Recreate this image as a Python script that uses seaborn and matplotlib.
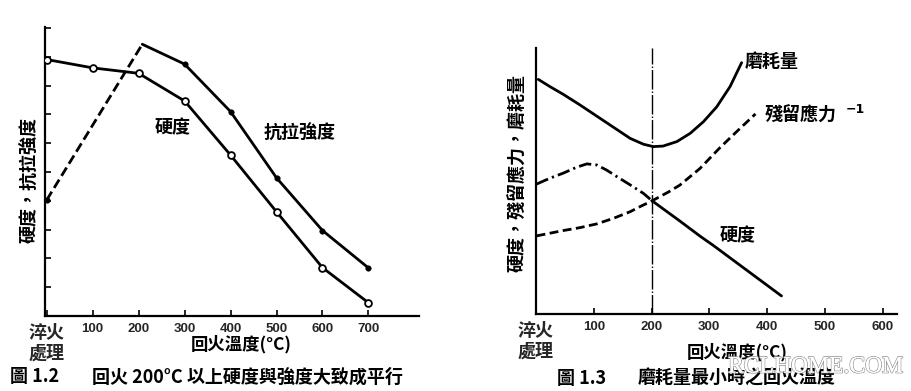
import numpy as np
import seaborn as sns
import matplotlib.pyplot as plt
import matplotlib.patheffects as pe

sns.set_theme(style="white")
plt.rcParams['font.family'] = ['Noto Sans CJK TC', 'DejaVu Sans']
plt.rcParams['axes.unicode_minus'] = False

# 圖 1.2 (left)
temp_left = [0, 100, 200, 300, 400, 500, 600, 700]
hardness_left = [8.91, 8.62, 8.43, 7.47, 5.59, 3.62, 1.68, 0.46]
tensile_temp = [0, 208, 300, 400, 500, 600, 700]
tensile_left = [4.03, 9.44, 8.75, 7.10, 4.80, 2.97, 1.67]
left_ticks = [0, 100, 200, 300, 400, 500, 600, 700]
left_ticklabels = ['淬火\n處理', '100', '200', '300', '400', '500', '600', '700']

# 圖 1.3 (right)
wear_temp = [4, 24, 47, 76, 105, 134, 163, 186, 203, 220, 244, 267, 290, 313, 336, 356]
wear = [88.3, 85.6, 82.7, 78.7, 74.5, 70.3, 66.1, 63.9, 63.0, 63.2, 64.9, 68.0, 72.4, 78.0, 85.6, 94.6]
hard_pre_temp = [1, 24, 47, 70, 88, 105, 122, 140, 163, 186, 201]
hard_pre = [48.9, 51.1, 53.0, 55.2, 56.5, 56.1, 54.2, 51.7, 48.6, 45.4, 42.6]
hard_post_temp = [201, 249, 284, 307, 425]
hard_post = [42.6, 35.0, 29.3, 25.8, 6.8]
resid_temp = [1, 47, 76, 105, 134, 163, 180, 201, 230, 249, 284, 318, 353, 380]
resid = [29.4, 31.4, 32.5, 33.9, 36.0, 38.5, 40.4, 42.6, 46.0, 48.5, 54.8, 62.5, 69.8, 75.3]
right_ticks = [0, 100, 200, 300, 400, 500, 600]
right_ticklabels = ['淬火\n處理', '100', '200', '300', '400', '500', '600']

W, H = 911, 391
fig = plt.figure(figsize=(W / 100, H / 100), dpi=100)
ax1 = fig.add_axes([45 / W, 1 - 316 / H, 374 / W, 289.3 / H])
ax2 = fig.add_axes([536 / W, 1 - 314 / H, 361 / W, 265.7 / H])

cjk = dict(family=['Noto Sans CJK TC', 'DejaVu Sans'], fontweight='bold', color='black')

# ---- left chart
sns.lineplot(x=tensile_temp[:2], y=tensile_left[:2], ax=ax1, color='black', lw=2,
             linestyle=(0, (3.5, 1.6)), sort=False)
sns.lineplot(x=tensile_temp[1:], y=tensile_left[1:], ax=ax1, color='black', lw=2, sort=False)
sns.scatterplot(x=[tensile_temp[0]] + tensile_temp[2:], y=[tensile_left[0]] + tensile_left[2:],
                ax=ax1, color='black', s=16, edgecolor='black', zorder=4)
sns.lineplot(x=temp_left, y=hardness_left, ax=ax1, color='black', lw=2, sort=False)
sns.scatterplot(x=temp_left, y=hardness_left, ax=ax1, marker='o', s=24,
                facecolor='white', edgecolor='black', linewidth=1.3, zorder=4)
ax1.set_xlim(-3.7, 810)
ax1.set_ylim(0, 10.05)
ax1.set_yticks(range(1, 11))
ax1.set_yticklabels([])
ax1.text(235.7, 6.52, '硬度', fontsize=13, va='center', ha='left', **cjk)
ax1.text(471, 6.34, '抗拉強度', fontsize=13, va='center', ha='left', **cjk)

# ---- right chart
sns.lineplot(x=wear_temp, y=wear, ax=ax2, color='black', lw=2, sort=False)
sns.lineplot(x=hard_pre_temp, y=hard_pre, ax=ax2, color='black', lw=2,
             linestyle=(0, (4.5, 1.5, 0.8, 1.5)), sort=False)
sns.lineplot(x=hard_post_temp, y=hard_post, ax=ax2, color='black', lw=2, sort=False)
sns.lineplot(x=resid_temp, y=resid, ax=ax2, color='black', lw=2,
             linestyle=(0, (3.2, 1.6)), sort=False)
ax2.axvline(200, color='black', lw=1, linestyle=(0, (14, 1.5, 1, 1.5)))
ax2.set_xlim(0, 625)
ax2.set_ylim(0, 100)
ax2.set_yticks([])
ax2.text(361.7, 95.0, '磨耗量', fontsize=13, va='center', ha='left', **cjk)
ax2.text(396.3, 74.9, '殘留應力', fontsize=13, va='center', ha='left', **cjk)
ax2.text(536, 77.0, '−1', fontsize=9, va='center', ha='left', family='DejaVu Sans',
         fontweight='bold', color='black')
ax2.text(318.4, 29.4, '硬度', fontsize=13, va='center', ha='left', **cjk)

for ax, ticks, labels in [(ax1, left_ticks, left_ticklabels), (ax2, right_ticks, right_ticklabels)]:
    for s in ['top', 'right']:
        ax.spines[s].set_visible(False)
    for s in ['left', 'bottom']:
        ax.spines[s].set_color('black')
        ax.spines[s].set_linewidth(1.6)
    ax.set_xticks(ticks)
    ax.set_xticklabels(labels)
    ax.tick_params(axis='both', direction='in', length=4, width=1.2, color='black',
                   bottom=True, left=True)
    ax.tick_params(axis='x', pad=5, labelsize=9.5)
    ax.set_xlabel('')
    ax.set_ylabel('')
    for i, lab in enumerate(ax.get_xticklabels()):
        if i == 0:
            lab.set_fontsize(13)
            lab.set_fontweight('bold')
            lab.set_linespacing(1.1)
        else:
            lab.set_family(['Liberation Sans', 'DejaVu Sans'])
            lab.set_fontweight('bold')

# axis labels and captions
fig.text(30 / W, 1 - 180 / H, '硬度，抗拉強度', rotation=90, fontsize=13, ha='center', va='center', **cjk)
fig.text(518 / W, 1 - 173 / H, '硬度，殘留應力，磨耗量', rotation=90, fontsize=13, ha='center', va='center', **cjk)
fig.text(241 / W, 1 - 344 / H, '回火溫度(°C)', fontsize=12.5, ha='center', va='center', **cjk)
fig.text(737 / W, 1 - 352 / H, '回火溫度(°C)', fontsize=12.5, ha='center', va='center', **cjk)
fig.text(10 / W, 1 - 377 / H, '圖 1.2', fontsize=13, ha='left', va='center', **cjk)
fig.text(92 / W, 1 - 377 / H, '回火 200°C 以上硬度與強度大致成平行', fontsize=13, ha='left', va='center', **cjk)
fig.text(557 / W, 1 - 378 / H, '圖 1.3', fontsize=13, ha='left', va='center', **cjk)
fig.text(638 / W, 1 - 378 / H, '磨耗量最小時之回火溫度', fontsize=13, ha='left', va='center', **cjk)

wm = fig.text(728 / W, 1 - 367 / H, 'RCLHOME.COM', fontsize=17, ha='left', va='center',
              family='Liberation Serif', color='white', zorder=10)
wm.set_path_effects([pe.withStroke(linewidth=1.2, foreground='#9a9a9a'), pe.Normal()])

fig.savefig('out.png', dpi=100, facecolor='white')
